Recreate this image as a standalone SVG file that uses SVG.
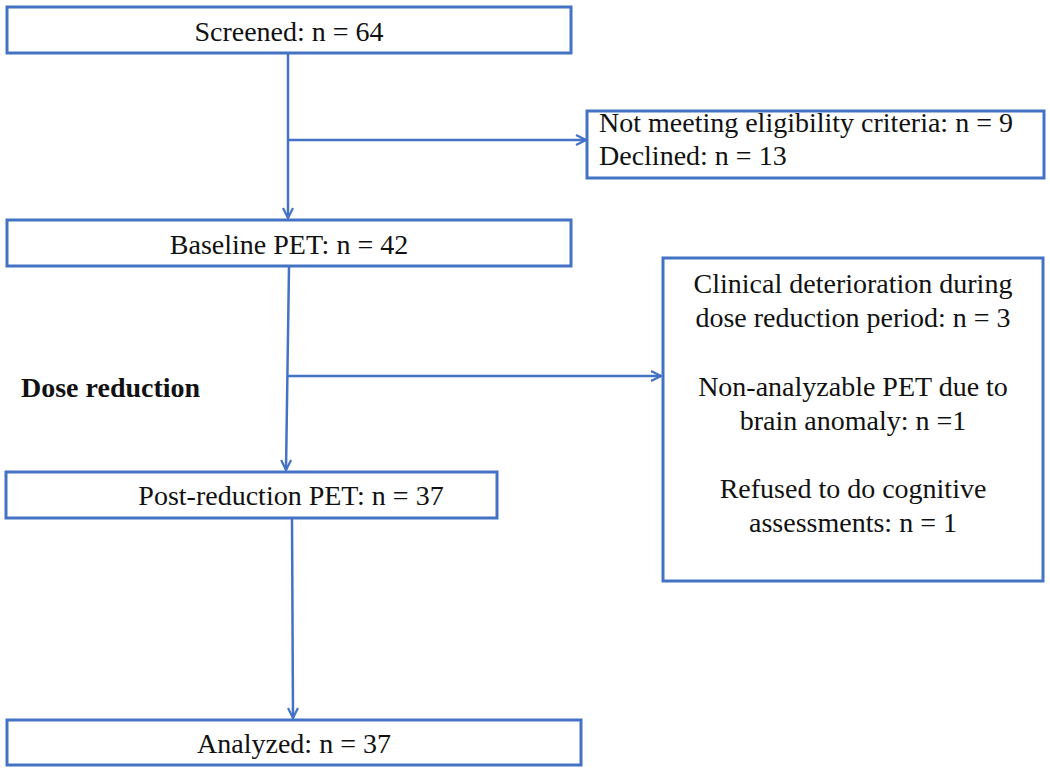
<svg xmlns="http://www.w3.org/2000/svg" width="1050" height="772" viewBox="0 0 1050 772">
<style>
.box{fill:#fff;stroke:#4472C4;stroke-width:3}
.ln{fill:none;stroke:#4472C4;stroke-width:2.5}
.t{font-family:"Liberation Serif","Times New Roman",serif;font-size:28px;fill:#111}
.c{text-anchor:middle}
.b{font-weight:bold}
</style>
<defs>
<marker id="ah" viewBox="0 0 12 12" refX="11" refY="6" markerWidth="12" markerHeight="12" markerUnits="userSpaceOnUse" orient="auto">
<polyline points="1,1 11,6 1,11" fill="none" stroke="#4472C4" stroke-width="2.2"/>
</marker>
</defs>
<rect width="1050" height="772" fill="#fff"/>
<g id="connectors">
<line class="ln" x1="288" y1="53" x2="288" y2="218" marker-end="url(#ah)"/>
<line class="ln" x1="288" y1="140" x2="586" y2="140" marker-end="url(#ah)"/>
<line class="ln" x1="289" y1="267" x2="286" y2="470" marker-end="url(#ah)"/>
<line class="ln" x1="288" y1="376" x2="661" y2="376" marker-end="url(#ah)"/>
<line class="ln" x1="292" y1="518" x2="293" y2="718" marker-end="url(#ah)"/>
</g>
<g id="screened">
<rect class="box" x="7" y="7" width="564" height="46"/>
<text class="t c" x="289" y="41">Screened: n = 64</text>
</g>
<g id="excluded1">
<rect class="box" x="587" y="111" width="457" height="67"/>
<text class="t" x="599" y="132">Not meeting eligibility criteria: n = 9</text>
<text class="t" x="599" y="165">Declined: n = 13</text>
</g>
<g id="baseline">
<rect class="box" x="7" y="220" width="564" height="46"/>
<text class="t c" x="289" y="254">Baseline PET: n = 42</text>
</g>
<g id="doseLabel">
<text class="t b" x="21" y="397">Dose reduction</text>
</g>
<g id="excluded2">
<rect class="box" x="663" y="258" width="380" height="323"/>
<text class="t c" x="853" y="293">Clinical deterioration during</text>
<text class="t c" x="853" y="327">dose reduction period: n = 3</text>
<text class="t c" x="853" y="396">Non-analyzable PET due to</text>
<text class="t c" x="853" y="430">brain anomaly: n =1</text>
<text class="t c" x="853" y="498">Refused to do cognitive</text>
<text class="t c" x="853" y="532">assessments: n = 1</text>
</g>
<g id="post">
<rect class="box" x="6" y="472" width="491" height="46"/>
<text class="t c" x="291" y="505">Post-reduction PET: n = 37</text>
</g>
<g id="analyzed">
<rect class="box" x="7" y="720" width="574" height="45"/>
<text class="t c" x="294" y="753">Analyzed: n = 37</text>
</g>
</svg>
